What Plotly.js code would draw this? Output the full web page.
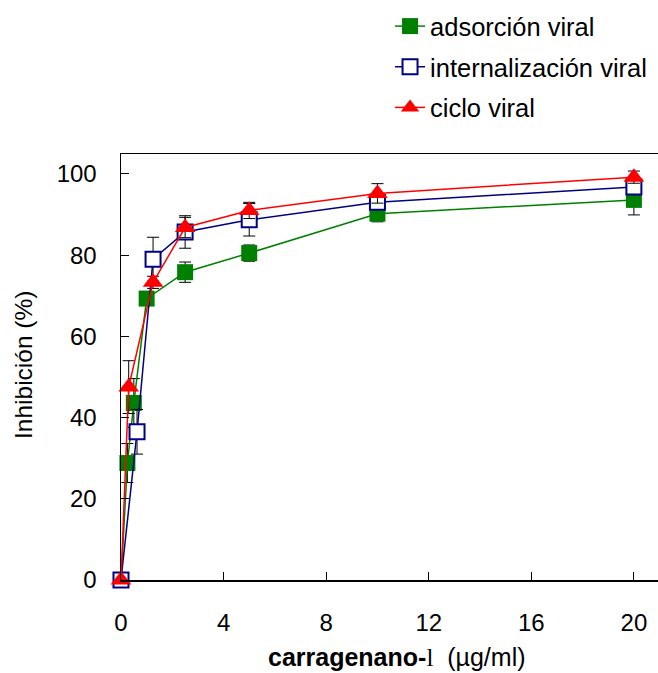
<!DOCTYPE html>
<html>
<head>
<meta charset="utf-8">
<script src="https://cdn.plot.ly/plotly-3.0.1.min.js"></script>
<style>html,body{margin:0;padding:0;background:#fff;}#chart{width:658px;height:673px;}</style>
</head>
<body>
<div id="chart"></div>
<script>
// Data
const seriesNames = ["adsorción viral", "internalización viral", "ciclo viral"];

const adsX   = [0, 0.25, 0.5, 1, 2.5, 5, 10, 20];
const adsY   = [0, 28.8, 43.6, 69.3, 75.8, 80.5, 90.2, 93.6];
const adsErr = [0, 4.8, 6, 1.5, 2.5, 2, 2, 3.7];

const intX   = [0, 0.625, 1.25, 2.5, 5, 10, 20];
const intY   = [0, 36.5, 79, 85.7, 88.7, 93, 96.8];
const intErr = [0, 5.5, 5.4, 4, 4, 1.5, 1.5];

const cicX   = [0, 0.3, 1.25, 2.5, 5, 10, 20];
const cicY   = [0, 47.5, 73.3, 86.8, 91, 95.2, 99.2];
const cicErr = [0, 6.5, 1.5, 2.5, 2, 2.4, 1.5];

const xTicks = [0, 4, 8, 12, 16, 20];
const yTicks = [0, 20, 40, 60, 80, 100];

const FONT = "Liberation Sans, Arial, sans-serif";

function errbar(arr) {
  return {type: 'data', array: arr, visible: true, color: '#000', thickness: 1, width: 6};
}

const traces = [
  {
    x: adsX, y: adsY, name: seriesNames[0], legendgroup: 'a',
    mode: 'lines+markers', type: 'scatter', cliponaxis: false,
    line: {color: '#008000', width: 1.5},
    marker: {symbol: 'square', size: 16, color: '#008000'},
    error_y: errbar(adsErr)
  },
  {
    x: intX, y: intY, name: seriesNames[1], legendgroup: 'b',
    mode: 'lines+markers', type: 'scatter', cliponaxis: false,
    line: {color: '#000080', width: 1.5},
    marker: {symbol: 'square', size: 15, color: '#ffffff', line: {color: '#000080', width: 2}},
    error_y: errbar(intErr)
  },
  {
    x: cicX, y: cicY, name: seriesNames[2], legendgroup: 'c',
    mode: 'lines+markers', type: 'scatter', cliponaxis: false,
    line: {color: '#ff0000', width: 1.5},
    marker: {symbol: 'triangle-up', size: 18, color: '#ff0000'},
    error_y: errbar(cicErr)
  }
];

const layout = {
  width: 658, height: 673,
  margin: {l: 121, r: 0, t: 154, b: 93},
  paper_bgcolor: '#fff', plot_bgcolor: '#fff',
  font: {family: FONT, size: 24, color: '#000'},
  showlegend: true,
  legend: {
    x: 0.501, y: 0.9955, xref: 'paper', yref: 'container',
    xanchor: 'left', yanchor: 'top',
    font: {family: FONT, size: 25.5, color: '#000'},
    tracegroupgap: 4.5, bgcolor: 'rgba(0,0,0,0)'
  },
  xaxis: {
    range: [0, 20.94], tickvals: xTicks, ticktext: xTicks.map(String),
    ticks: 'inside', ticklen: 8, tickwidth: 1, tickcolor: '#000',
    showline: true, linecolor: '#000', linewidth: 1.5, mirror: true,
    showgrid: false, zeroline: false, ticklabelstandoff: 21,
    tickfont: {family: FONT, size: 24, color: '#000'}
  },
  yaxis: {
    range: [0, 104.9], tickvals: yTicks, ticktext: yTicks.map(String),
    ticks: 'inside', ticklen: 8, tickwidth: 1, tickcolor: '#000',
    showline: true, linecolor: '#000', linewidth: 1.5,
    showgrid: false, zeroline: false, ticklabelstandoff: 18,
    tickfont: {family: FONT, size: 24, color: '#000'}
  },
  annotations: [
    {
      text: "<b>carragenano-</b><span style='font-family:Liberation Serif, Times New Roman, serif'>l</span>&nbsp;&nbsp;(µg/ml)",
      xref: 'paper', yref: 'paper', x: (397 - 121) / 537, y: 0,
      xanchor: 'center', yanchor: 'middle', yshift: -77, showarrow: false,
      font: {family: FONT, size: 25, color: '#000'}
    },
    {
      text: "Inhibición (%)",
      xref: 'paper', yref: 'paper', x: 0, y: (580 - 365) / 426,
      xanchor: 'center', yanchor: 'middle', xshift: -98, showarrow: false,
      textangle: -90,
      font: {family: FONT, size: 24.5, color: '#000'}
    }
  ]
};

Plotly.newPlot('chart', traces, layout, {displayModeBar: false, staticPlot: true});
</script>
</body>
</html>
